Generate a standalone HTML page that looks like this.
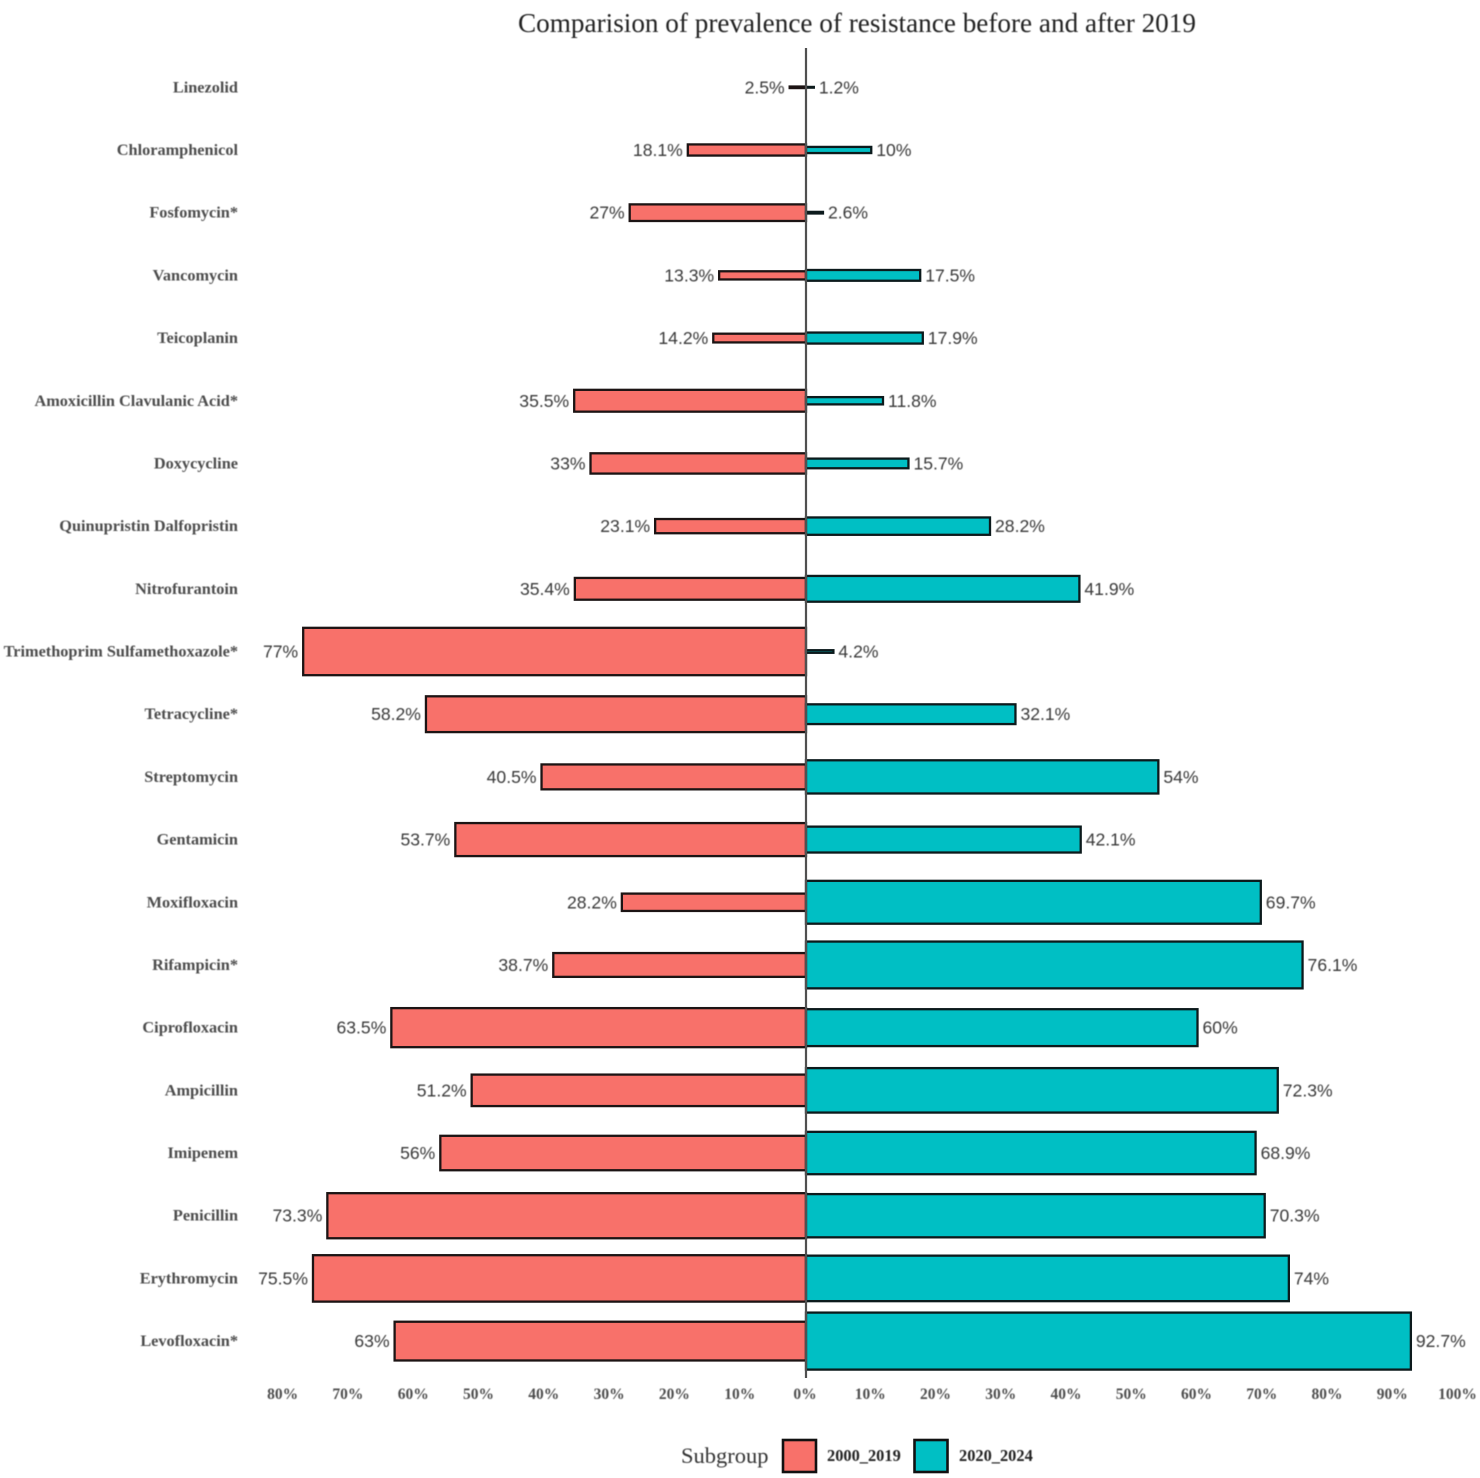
<!DOCTYPE html>
<html lang="en">
<head>
<meta charset="utf-8">
<title>Comparision of prevalence of resistance before and after 2019</title>
<style>
html,body{margin:0;padding:0;background:#fff;}
#chart{display:block;width:1480px;height:1478px;}
.soft{filter:blur(0.55px);}
</style>
</head>
<body>
<svg id="chart" xmlns="http://www.w3.org/2000/svg" width="1480" height="1478" viewBox="0 0 1480 1478">
  <rect width="1480" height="1478" fill="#ffffff"/>
  <text class="soft" x="857" y="32" text-anchor="middle" font-family="'Liberation Serif',serif" font-size="27.2" fill="#222">Comparision of prevalence of resistance before and after 2019</text>
  <g id="bars"></g>
  <g id="cat-labels" class="soft"></g>
  <g id="val-labels" class="soft"></g>
  <g id="x-ticks" class="soft"></g>
  <line x1="806" x2="806" y1="48" y2="1378" stroke="#505050" stroke-width="2.2"/>
  <g>
    <text class="soft" x="681" y="1463" font-family="'Liberation Serif',serif" font-size="22.5" fill="#333">Subgroup</text>
    <rect x="783" y="1440" width="33" height="32" fill="#f8716a" stroke="#111" stroke-width="2.6"/>
    <text class="soft" x="827" y="1461" font-family="'Liberation Serif',serif" font-weight="bold" font-size="16.4" fill="#222">2000_2019</text>
    <rect x="914.500" y="1440" width="33" height="32" fill="#00bfc4" stroke="#111" stroke-width="2.6"/>
    <text class="soft" x="959" y="1461" font-family="'Liberation Serif',serif" font-weight="bold" font-size="16.4" fill="#222">2020_2024</text>
  </g>
</svg>
<script>
const categories = ["Linezolid","Chloramphenicol","Fosfomycin*","Vancomycin","Teicoplanin","Amoxicillin Clavulanic Acid*","Doxycycline","Quinupristin Dalfopristin","Nitrofurantoin","Trimethoprim Sulfamethoxazole*","Tetracycline*","Streptomycin","Gentamicin","Moxifloxacin","Rifampicin*","Ciprofloxacin","Ampicillin","Imipenem","Penicillin","Erythromycin","Levofloxacin*"];
const before2019 = [2.5,18.1,27,13.3,14.2,35.5,33,23.1,35.4,77,58.2,40.5,53.7,28.2,38.7,63.5,51.2,56,73.3,75.5,63];
const after2019 = [1.2,10,2.6,17.5,17.9,11.8,15.7,28.2,41.9,4.2,32.1,54,42.1,69.7,76.1,60,72.3,68.9,70.3,74,92.7];
const leftTicks = [80,70,60,50,40,30,20,10];
const rightTicks = [0,10,20,30,40,50,60,70,80,90,100];

const SVG_NS = "http://www.w3.org/2000/svg";
const xLeft = function (v) { return 806 - v * 6.53; };
const xRight = function (v) { return 806 + v * 6.525; };
const yRow = function (i) { return 87.3 + i * 62.69; };
const barHeight = function (v) { return v * 0.615; };

const make = function (tag, attrs, parent, txt) {
  const el = document.createElementNS(SVG_NS, tag);
  Object.keys(attrs).forEach(function (k) { el.setAttribute(k, attrs[k]); });
  if (txt !== undefined) el.textContent = txt;
  parent.appendChild(el);
  return el;
};

const barsG = document.getElementById("bars");
const catG = document.getElementById("cat-labels");
const valG = document.getElementById("val-labels");
const tickG = document.getElementById("x-ticks");

categories.forEach(function (name, i) {
  const y = yRow(i);
  const slug = name.toLowerCase().replace(/[^a-z]+/g, "-").replace(/-$/, "");

  const cat = make("text", {x: 238, y: y + 5, "text-anchor": "end", "font-family": "'Liberation Serif',serif", "font-weight": "bold", "font-size": 16.3, fill: "#4d4d4d"}, catG, name);
  
  

  const lv = before2019[i];
  const lh = barHeight(lv);
  const lb = make("rect", {x: xLeft(lv), y: y - lh / 2, width: 806 - xLeft(lv), height: lh, fill: "#f8716a", stroke: "#1c1414", "stroke-width": 2.3}, barsG);
  
  

  const rv = after2019[i];
  const rh = barHeight(rv);
  const rb = make("rect", {x: 806, y: y - rh / 2, width: xRight(rv) - 806, height: rh, fill: "#00bfc4", stroke: "#0c1a1c", "stroke-width": 2.3}, barsG);
  
  

  const lt = make("text", {x: xLeft(lv) - 5, y: y + 6, "text-anchor": "end", "font-family": "'Liberation Sans',sans-serif", "font-size": 17.6, fill: "#3a3a3a"}, valG, lv + "%");
  
  

  const rt = make("text", {x: xRight(rv) + 5, y: y + 6, "text-anchor": "start", "font-family": "'Liberation Sans',sans-serif", "font-size": 17.6, fill: "#3a3a3a"}, valG, rv + "%");
  
  
});

const tickAttrs = function (x) {
  return {x: x - 1, y: 1399, "text-anchor": "middle", "font-family": "'Liberation Serif',serif", "font-weight": "bold", "font-size": 15.5, fill: "#4d4d4d"};
};
leftTicks.forEach(function (t) {
  const el = make("text", tickAttrs(xLeft(t)), tickG, t + "%");
  
  
});
rightTicks.forEach(function (t) {
  const el = make("text", tickAttrs(xRight(t)), tickG, t + "%");
  
  
});
</script>
</body>
</html>
